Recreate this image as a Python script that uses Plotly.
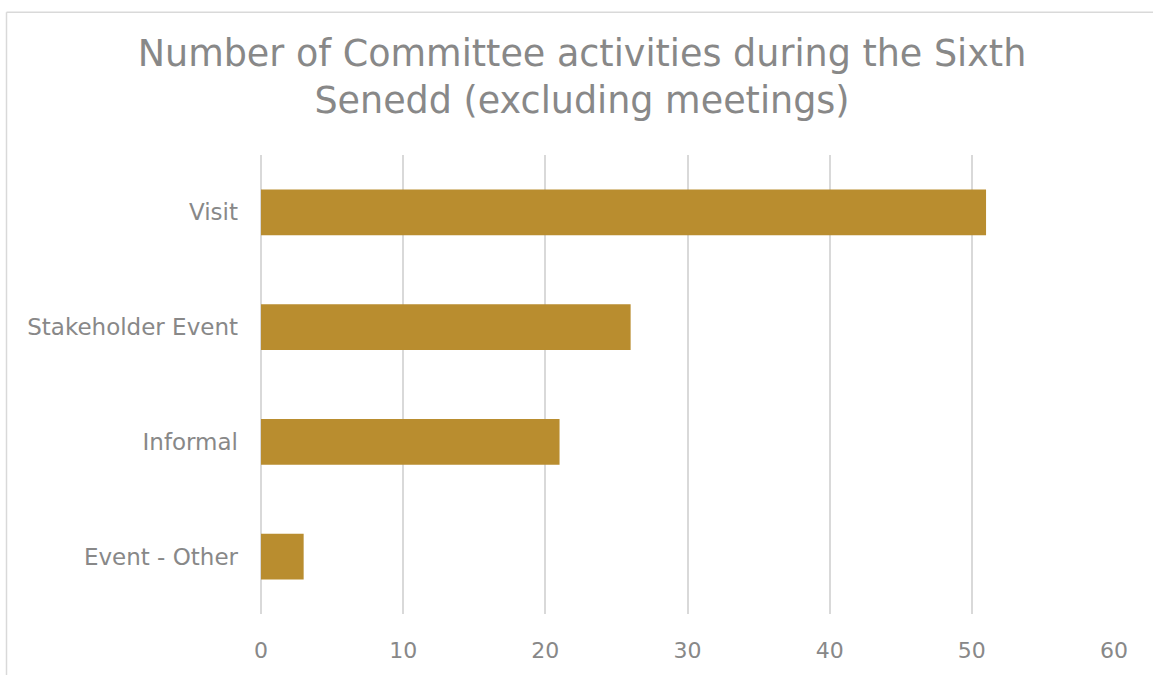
import plotly.graph_objects as go

categories = ["Visit", "Stakeholder Event", "Informal", "Event - Other"]
values = [51, 26, 21, 3]
x_ticks = [0, 10, 20, 30, 40, 50, 60]
title_text = "Number of Committee activities during the Sixth<br>Senedd (excluding meetings)"

W, H = 1153, 675
L, R, T, B = 261, 39, 155, 55
pw, ph = W - L - R, H - T - B

fig = go.Figure(go.Bar(
    y=categories, x=values, orientation="h",
    marker=dict(color="#B98D2F", line=dict(width=0)),
    width=0.4,
))

font_family = "DejaVu Sans"
grey = "#888888"

fig.update_layout(
    width=W, height=H,
    margin=dict(l=L, r=R, t=T, b=B, pad=0),
    paper_bgcolor="white", plot_bgcolor="white",
    showlegend=False,
    font=dict(family=font_family, color=grey),
    title=dict(text=title_text, x=(582) / W, xanchor="center",
               y=1 - 66 / H, yanchor="top", yref="container",
               font=dict(family=font_family, size=36.5, color="#888888")),
    xaxis=dict(range=[0, 60], tickvals=x_ticks, showgrid=True,
               gridcolor="#D9D9D9", gridwidth=1.5, zeroline=True,
               zerolinecolor="#D9D9D9", zerolinewidth=1.5, showline=False,
               ticks="", tickfont=dict(size=22, color=grey), ticklabelstandoff=21),
    yaxis=dict(categoryorder="array", categoryarray=categories[::-1],
               showgrid=False, showline=False, ticks="", zeroline=False,
               tickfont=dict(size=23, color=grey), ticklabelstandoff=22),
)

def px2paper_x(px):
    return (px - L) / pw

def px2paper_y(py):
    return (H - B - py) / ph

fig.add_shape(type="line", xref="paper", yref="paper",
              x0=px2paper_x(6.5), x1=px2paper_x(1200), y0=px2paper_y(10.5), y1=px2paper_y(10.5),
              line=dict(color="#D9D9D9", width=1.5), layer="above")
fig.add_shape(type="line", xref="paper", yref="paper",
              x0=px2paper_x(6.5), x1=px2paper_x(6.5), y0=px2paper_y(10.5), y1=px2paper_y(720),
              line=dict(color="#D9D9D9", width=1.5), layer="above")

fig.write_html("out.html")
